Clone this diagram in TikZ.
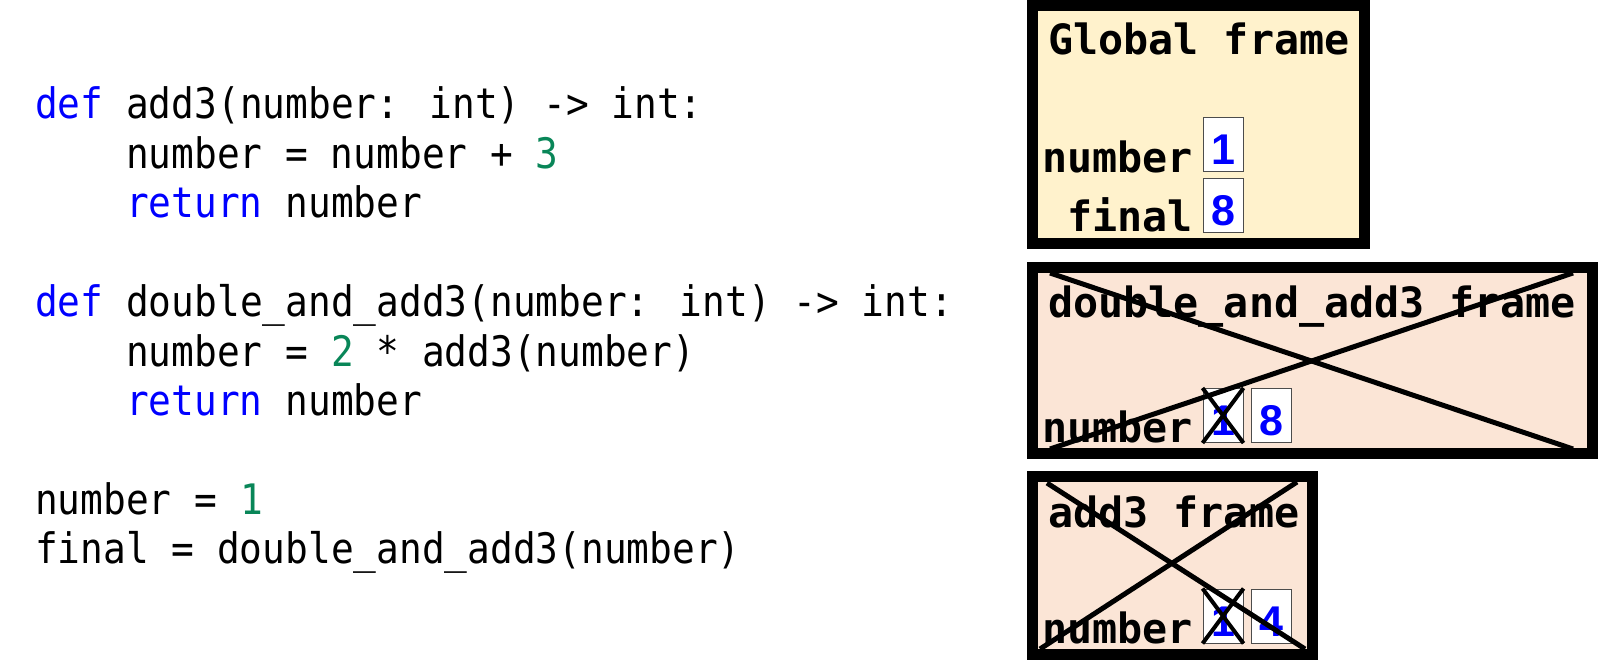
\documentclass[tikz,border=0pt]{standalone}
\usepackage{fontspec}
\usepackage{tikz}

\newfontfamily\codefont[FakeStretch=0.9]{DejaVu Sans Mono}
\newfontfamily\framefont{DejaVu Sans Mono}
\newfontfamily\valfont{Liberation Sans}

\definecolor{kwblue}{RGB}{0,0,255}
\definecolor{numgreen}{RGB}{9,134,88}
\definecolor{globalfill}{RGB}{255,242,204}
\definecolor{callfill}{RGB}{251,229,214}

\newcommand{\kw}[1]{\textcolor{kwblue}{#1}}
\newcommand{\num}[1]{\textcolor{numgreen}{#1}}

\begin{document}
\begin{tikzpicture}[x=1pt, y=-1pt,
    codeline/.style={anchor=base west, inner sep=0pt, font=\codefont\fontsize{42}{49}\selectfont},
    frametitle/.style={anchor=base west, inner sep=0pt, font=\framefont\bfseries\fontsize{41.7}{50}\selectfont},
    varname/.style={anchor=base east, inner sep=0pt, font=\framefont\bfseries\fontsize{41.7}{50}\selectfont},
    valbox/.style={draw=black!70, line width=1pt, fill=white, minimum width=40pt, minimum height=54pt,
        inner sep=0pt, text height=40pt, text depth=0pt, text=kwblue, font=\valfont\bfseries\fontsize{43}{50}\selectfont},
    frame/.style={draw=black, line width=11pt},
    strike/.style={line width=4pt},
    bigstrike/.style={line width=5pt}]

    \useasboundingbox (0,0) rectangle (1598,660);

    % source code
    \foreach \k/\xpos/\txt in {
        0/35/{\kw{def} add3(number: int) -> int:},
        1/126/{number = number + \num{3}},
        2/126/{\kw{return} number},
        4/35/{\kw{def} double\_and\_add3(number: int) -> int:},
        5/126/{number = \num{2} * add3(number)},
        6/126/{\kw{return} number},
        8/35/{number = \num{1}},
        9/35/{final = double\_and\_add3(number)}
    } {
        \node[codeline] (code\k) at (\xpos, {119+49.4*\k}) {\txt};
    }

    % global frame
    \draw[frame, fill=globalfill] (1032.5,6) rectangle (1364.5,243.5);
    \node[frametitle] (gtitle) at (1048,55) {Global frame};
    \node[varname] (gnumber) at (1193,173) {number};
    \node[valbox] (gnumberval) at (1223,145) {1};
    \node[varname] (gfinal) at (1193,232) {final};
    \node[valbox] (gfinalval) at (1223,206) {8};

    % double_and_add3 frame
    \draw[frame, fill=callfill] (1032.5,267.5) rectangle (1592.5,453.5);
    \node[frametitle] (dtitle) at (1048,317) {double\_and\_add3 frame};
    \node[varname] (dnumber) at (1193,442) {number};
    \node[valbox] (dnumberold) at (1223,415.5) {1};
    \node[valbox] (dnumberval) at (1271.5,415.5) {8};
    \draw[strike] (dnumberold.north west) -- (dnumberold.south east);
    \draw[strike] (dnumberold.south west) -- (dnumberold.north east);
    \coordinate (dtl) at (1050,273);
    \coordinate (dtr) at (1573,273);
    \coordinate (dbl) at (1050,449);
    \coordinate (dbr) at (1573,449);
    \draw[bigstrike] (dtl) -- (dbr);
    \draw[bigstrike] (dbl) -- (dtr);

    % add3 frame
    \draw[frame, fill=callfill] (1032.5,476.5) rectangle (1312.5,654.5);
    \node[frametitle] (atitle) at (1048,527) {add3 frame};
    \node[varname] (anumber) at (1193,643) {number};
    \node[valbox] (anumberold) at (1223,616) {1};
    \node[valbox] (anumberval) at (1271.5,616) {4};
    \draw[strike] (anumberold.north west) -- (anumberold.south east);
    \draw[strike] (anumberold.south west) -- (anumberold.north east);
    \coordinate (atl) at (1047,483);
    \coordinate (atr) at (1297,482);
    \coordinate (abl) at (1040,649);
    \coordinate (abr) at (1305,649);
    \draw[bigstrike] (atl) -- (abr);
    \draw[bigstrike] (abl) -- (atr);

\end{tikzpicture}
\end{document}
